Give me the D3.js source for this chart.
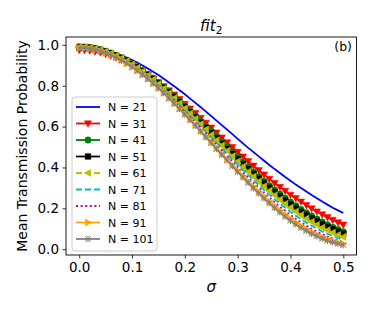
<!DOCTYPE html>
<html>
<head>
<meta charset="utf-8">
<script src="https://cdn.jsdelivr.net/npm/d3@7"></script>
<style>
  body { margin: 0; background: #fff; }
  svg { display: block; font-family: "DejaVu Sans", sans-serif; }
</style>
</head>
<body>
<div id="chart"></div>
<script>
// sigma values (x)
const sigma = [0.00, 0.01, 0.02, 0.03, 0.04, 0.05, 0.06, 0.07, 0.08, 0.09,
    0.10, 0.11, 0.12, 0.13, 0.14, 0.15, 0.16, 0.17, 0.18, 0.19,
    0.20, 0.21, 0.22, 0.23, 0.24, 0.25, 0.26, 0.27, 0.28, 0.29,
    0.30, 0.31, 0.32, 0.33, 0.34, 0.35, 0.36, 0.37, 0.38, 0.39,
    0.40, 0.41, 0.42, 0.43, 0.44, 0.45, 0.46, 0.47, 0.48, 0.49, 0.50];

// mean transmission probability, one array per N
const n21 = [.990,.989,.987,.984,.979,.974,.966,.958,.948,.938,.926,.913,.899,.884,.868,.852,.834,.816,.797,.778,.758,.737,.716,.695,.673,.651,.629,.607,.585,.563,.540,.518,.496,.475,.454,.433,.412,.392,.373,.353,.335,.316,.299,.282,.265,.249,.233,.218,.203,.190,.177];
const n31 = [.975,.974,.972,.968,.963,.956,.948,.938,.927,.915,.901,.886,.870,.853,.835,.816,.797,.777,.756,.734,.711,.688,.665,.642,.618,.594,.570,.546,.522,.499,.476,.453,.430,.408,.386,.365,.344,.323,.304,.285,.266,.249,.232,.215,.199,.184,.170,.156,.143,.131,.120];
const n41 = [.990,.989,.987,.982,.976,.969,.960,.949,.937,.923,.908,.892,.875,.856,.837,.816,.794,.772,.749,.725,.701,.676,.652,.626,.601,.576,.550,.525,.500,.475,.450,.426,.402,.378,.356,.333,.311,.290,.270,.250,.231,.213,.195,.178,.163,.148,.133,.120,.108,.096,.085];
const n51 = [.990,.989,.987,.982,.976,.968,.959,.948,.936,.922,.907,.890,.872,.853,.833,.812,.790,.767,.744,.720,.695,.670,.645,.619,.594,.568,.542,.516,.491,.466,.441,.416,.392,.368,.345,.322,.300,.279,.258,.238,.219,.201,.183,.167,.151,.136,.122,.109,.097,.086,.075];
const n61 = [.990,.989,.986,.982,.976,.968,.958,.947,.935,.920,.905,.888,.870,.850,.830,.808,.786,.763,.739,.714,.689,.664,.638,.612,.586,.559,.533,.507,.481,.455,.429,.404,.379,.355,.331,.308,.286,.264,.243,.222,.203,.184,.167,.150,.134,.119,.105,.093,.081,.070,.060];
const n71 = [.990,.989,.986,.982,.975,.967,.957,.946,.933,.918,.902,.885,.866,.846,.825,.803,.780,.756,.731,.706,.680,.654,.628,.601,.574,.547,.520,.493,.466,.440,.414,.388,.362,.338,.313,.290,.267,.244,.223,.203,.183,.164,.147,.130,.115,.100,.087,.075,.064,.054,.045];
const n81 = [.990,.989,.986,.982,.975,.967,.957,.945,.932,.917,.900,.882,.863,.843,.821,.799,.775,.751,.726,.701,.674,.648,.621,.593,.566,.539,.511,.484,.456,.429,.402,.376,.350,.325,.300,.276,.253,.230,.208,.188,.168,.149,.132,.116,.100,.086,.074,.062,.052,.043,.035];
const n91 = [.985,.984,.981,.976,.970,.961,.951,.939,.925,.910,.893,.875,.855,.834,.812,.789,.765,.741,.715,.689,.662,.635,.608,.580,.552,.524,.496,.468,.440,.412,.385,.358,.332,.306,.281,.257,.233,.211,.189,.168,.149,.131,.114,.098,.084,.071,.059,.049,.040,.032,.025];
const n101 = [.985,.984,.981,.976,.970,.961,.951,.938,.925,.909,.892,.874,.854,.833,.811,.788,.763,.738,.712,.686,.659,.632,.604,.576,.547,.519,.490,.462,.434,.406,.378,.351,.324,.298,.272,.248,.224,.201,.179,.159,.139,.121,.104,.089,.075,.062,.051,.041,.033,.026,.020];

const labels = ['N = 21', 'N = 31', 'N = 41', 'N = 51', 'N = 61', 'N = 71', 'N = 81', 'N = 91', 'N = 101'];
const xTicks = [0.0, 0.1, 0.2, 0.3, 0.4, 0.5];
const yTicks = [0.0, 0.2, 0.4, 0.6, 0.8, 1.0];

const values = [n21, n31, n41, n51, n61, n71, n81, n91, n101];

// line styles (matplotlib-like)
const styles = [
    { color: '#0000ff', dash: null, marker: null },
    { color: '#ff0000', dash: null, marker: 'tdown' },
    { color: '#008000', dash: null, marker: 'circle' },
    { color: '#000000', dash: null, marker: 'square' },
    { color: '#bfbf00', dash: '6,3', marker: 'tleft' },
    { color: '#00bfbf', dash: '6,3', marker: null },
    { color: '#bf00bf', dash: '2,2.6', marker: null },
    { color: '#ffa500', dash: null, marker: 'tright' },
    { color: '#808080', dash: null, marker: 'x' },
];

const width = 374, height = 312;
const margin = { left: 66, right: 17.5, top: 37, bottom: 57 };

const svg = d3.select('#chart').append('svg')
    .attr('width', width)
    .attr('height', height);

const x = d3.scaleLinear().domain([-0.025, 0.525]).range([margin.left, width - margin.right]);
const y = d3.scaleLinear().domain([-0.0285, 1.0385]).range([height - margin.bottom, margin.top]);

// marker path generator
function markerPath(type) {
    const r = 3.6;
    if (type === 'tdown') return `M${-r},${-r * 0.75}L${r},${-r * 0.75}L0,${r * 1.05}Z`;
    if (type === 'tleft') return `M${-r * 1.05},0L${r * 0.75},${-r}L${r * 0.75},${r}Z`;
    if (type === 'tright') return `M${r * 1.05},0L${-r * 0.75},${-r}L${-r * 0.75},${r}Z`;
    if (type === 'circle') return d3.symbol(d3.symbolCircle, 32)();
    if (type === 'square') return d3.symbol(d3.symbolSquare, 32)();
    if (type === 'x') return 'M-2.8,-2.8L2.8,2.8M-2.8,2.8L2.8,-2.8M0,-3.2L0,3.2';
    return null;
}

function drawMarker(g, type, color) {
    const p = g.append('path').attr('d', markerPath(type));
    if (type === 'x') {
        p.attr('fill', 'none').attr('stroke', color).attr('stroke-width', 1);
    } else {
        p.attr('fill', color).attr('stroke', color).attr('stroke-width', 0.5);
    }
}

const plot = svg.append('g');

const line = d3.line()
    .x((d, i) => x(sigma[i]))
    .y(d => y(d));

values.forEach((vals, k) => {
    const st = styles[k];
    plot.append('path')
        .datum(vals)
        .attr('fill', 'none')
        .attr('stroke', st.color)
        .attr('stroke-width', 1.8)
        .attr('stroke-dasharray', st.dash)
        .attr('d', line);
    if (st.marker) {
        plot.append('g')
            .selectAll('g')
            .data(vals)
            .join('g')
            .attr('transform', (d, i) => `translate(${x(sigma[i])},${y(d)})`)
            .each(function () { drawMarker(d3.select(this), st.marker, st.color); });
    }
});

// axes
const xAxis = svg.append('g')
    .attr('transform', `translate(0,${height - margin.bottom})`)
    .call(d3.axisBottom(x).tickValues(xTicks).tickFormat(d3.format('.1f')).tickSize(3.5).tickPadding(3.5));
const yAxis = svg.append('g')
    .attr('transform', `translate(${margin.left},0)`)
    .call(d3.axisLeft(y).tickValues(yTicks).tickFormat(d3.format('.1f')).tickSize(3.5).tickPadding(3.5));

[xAxis, yAxis].forEach(a => {
    a.select('.domain').remove();
    a.selectAll('text').attr('font-size', 13.5).attr('fill', '#000').attr('font-family', '"DejaVu Sans", sans-serif');
    a.selectAll('line').attr('stroke', '#000').attr('stroke-width', 0.8);
});

// frame
svg.append('rect')
    .attr('x', margin.left)
    .attr('y', margin.top)
    .attr('width', width - margin.left - margin.right)
    .attr('height', height - margin.top - margin.bottom)
    .attr('fill', 'none')
    .attr('stroke', '#000')
    .attr('stroke-width', 0.9);

// labels
svg.append('text')
    .attr('x', (margin.left + width - margin.right) / 2)
    .attr('y', 292)
    .attr('text-anchor', 'middle')
    .attr('font-size', 15)
    .attr('font-style', 'italic')
    .text('σ');

svg.append('text')
    .attr('transform', `translate(27,${(margin.top + height - margin.bottom) / 2}) rotate(-90)`)
    .attr('text-anchor', 'middle')
    .attr('font-size', 14)
    .text('Mean Transmission Probability');

const title = svg.append('text')
    .attr('x', (margin.left + width - margin.right) / 2)
    .attr('y', 31)
    .attr('text-anchor', 'middle')
    .attr('font-size', 15);
title.append('tspan').attr('font-style', 'italic').text('fit');
title.append('tspan').attr('font-size', 10.5).attr('dy', 3).text('2');

svg.append('text')
    .attr('x', 352)
    .attr('y', 51)
    .attr('text-anchor', 'end')
    .attr('font-size', 12.5)
    .text('(b)');

// legend
const legend = svg.append('g');
legend.append('rect')
    .attr('x', 72)
    .attr('y', 97)
    .attr('width', 85)
    .attr('height', 154)
    .attr('rx', 3)
    .attr('fill', '#fff')
    .attr('fill-opacity', 0.8)
    .attr('stroke', '#cccccc')
    .attr('stroke-width', 1);

labels.forEach((lab, k) => {
    const st = styles[k];
    const ly = 107 + k * 16.5;
    const item = legend.append('g');
    item.append('line')
        .attr('x1', 76).attr('x2', 100)
        .attr('y1', ly).attr('y2', ly)
        .attr('stroke', st.color)
        .attr('stroke-width', 1.8)
        .attr('stroke-dasharray', st.dash);
    if (st.marker) {
        drawMarker(item.append('g').attr('transform', `translate(88,${ly})`), st.marker, st.color);
    }
    item.append('text')
        .attr('x', 108)
        .attr('y', ly + 4)
        .attr('font-size', 11)
        .text(lab);
});
</script>
</body>
</html>
